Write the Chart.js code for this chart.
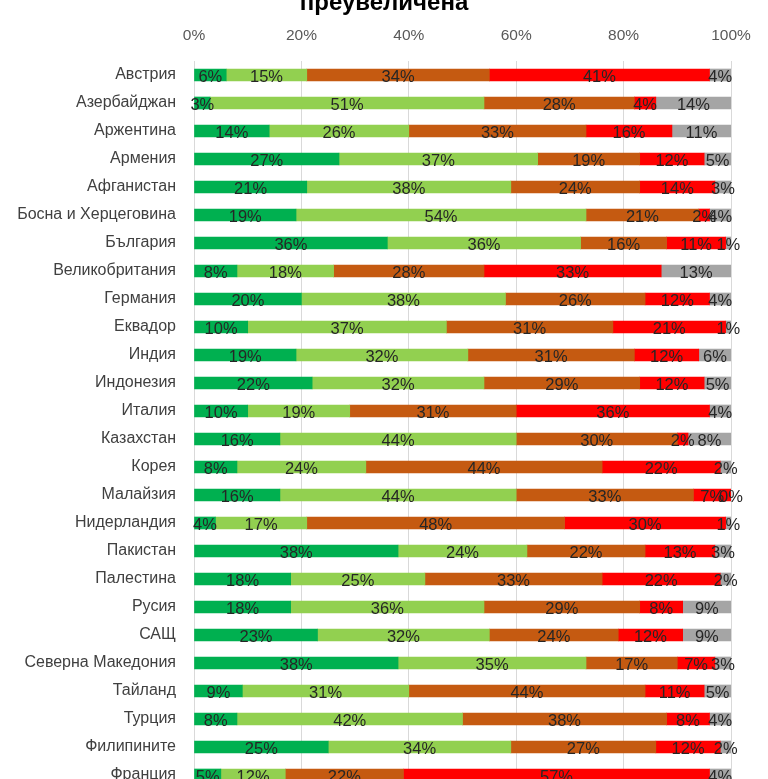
<!DOCTYPE html>
<html>
<head>
<meta charset="utf-8">
<script src="https://cdn.jsdelivr.net/npm/chart.js@4"></script>
<style>
  html, body { margin: 0; padding: 0; background: #fff; overflow: hidden; }
  #chart { position: absolute; left: 0; top: -30px; }
</style>
</head>
<body>
<canvas id="chart" width="768" height="819"></canvas>
<script>
const countries = [
  "Австрия", "Азербайджан", "Аржентина", "Армения", "Афганистан",
  "Босна и Херцеговина", "България", "Великобритания", "Германия", "Еквадор",
  "Индия", "Индонезия", "Италия", "Казахстан", "Корея", "Малайзия",
  "Нидерландия", "Пакистан", "Палестина", "Русия", "САЩ",
  "Северна Македония", "Тайланд", "Турция", "Филипините", "Франция"
];

// five answer groups, in the order they are stacked
const darkGreen  = [6, 3, 14, 27, 21, 19, 36, 8, 20, 10, 19, 22, 10, 16, 8, 16, 4, 38, 18, 18, 23, 38, 9, 8, 25, 5];
const lightGreen = [15, 51, 26, 37, 38, 54, 36, 18, 38, 37, 32, 32, 19, 44, 24, 44, 17, 24, 25, 36, 32, 35, 31, 42, 34, 12];
const orange     = [34, 28, 33, 19, 24, 21, 16, 28, 26, 31, 31, 29, 31, 30, 44, 33, 48, 22, 33, 29, 24, 17, 44, 38, 27, 22];
const red        = [41, 4, 16, 12, 14, 2, 11, 33, 12, 21, 12, 12, 36, 2, 22, 7, 30, 13, 22, 8, 12, 7, 11, 8, 12, 57];
const grey       = [4, 14, 11, 5, 3, 4, 1, 13, 4, 1, 6, 5, 4, 8, 2, 0, 1, 3, 2, 9, 9, 3, 5, 4, 2, 4];

const xTicks = [0, 20, 40, 60, 80, 100];

const FONT = "'Liberation Sans', Arial, sans-serif";

// write the percentage in the middle of every segment
const segmentLabels = {
  id: "segmentLabels",
  afterDatasetsDraw(chart) {
    const ctx = chart.ctx;
    ctx.save();
    ctx.font = "16.5px " + FONT;
    ctx.fillStyle = "#262626";
    ctx.textAlign = "center";
    ctx.textBaseline = "middle";
    chart.data.datasets.forEach((ds, i) => {
      chart.getDatasetMeta(i).data.forEach((bar, j) => {
        const p = bar.getProps(["x", "y", "base"], true);
        ctx.fillText(ds.data[j] + "%", (p.x + p.base) / 2, p.y + 2);
      });
    });
    ctx.restore();
  }
};

// centre the title on the whole canvas, not only on the padded part
const titleOnCanvas = {
  id: "titleOnCanvas",
  afterLayout(chart) {
    const t = chart.titleBlock;
    if (t) {
      t.left = 0;
      t.right = chart.width;
      t.width = chart.width;
    }
  }
};

new Chart(document.getElementById("chart"), {
  type: "bar",
  data: {
    labels: countries,
    datasets: [
      { label: "1", data: darkGreen, backgroundColor: "#00B050" },
      { label: "2", data: lightGreen, backgroundColor: "#92D050" },
      { label: "3", data: orange, backgroundColor: "#C55A11" },
      { label: "4", data: red, backgroundColor: "#FF0000" },
      { label: "5", data: grey, backgroundColor: "#A5A5A5" }
    ]
  },
  options: {
    indexAxis: "y",
    responsive: false,
    animation: false,
    barThickness: 12,
    layout: { padding: { top: 0, right: 37, bottom: 0, left: 0 } },
    plugins: {
      legend: { display: false },
      tooltip: { enabled: false },
      title: {
        display: true,
        text: "преувеличена",
        color: "#000000",
        font: { family: FONT, size: 24, weight: "bold" },
        padding: { top: 18.6, bottom: 0 }
      }
    },
    scales: {
      x: {
        position: "top",
        stacked: true,
        min: 0,
        max: 100,
        afterBuildTicks: (s) => { s.ticks = xTicks.map((v) => ({ value: v })); },
        afterFit: (s) => { s.height = 43.6; },
        ticks: {
          padding: 16,
          color: "#595959",
          font: { family: FONT, size: 15.5 },
          callback: (v) => v + "%"
        },
        grid: { color: "#D9D9D9", drawTicks: false },
        border: { display: false }
      },
      y: {
        stacked: true,
        afterFit: (s) => {
          s.width = 194;
          s.paddingTop = 0;
          s.paddingBottom = 0;
        },
        ticks: {
          padding: 18,
          color: "#404040",
          font: { family: FONT, size: 16 }
        },
        grid: { display: false, drawTicks: false },
        border: { display: true, color: "#D9D9D9" }
      }
    }
  },
  plugins: [segmentLabels, titleOnCanvas]
});
</script>
</body>
</html>
